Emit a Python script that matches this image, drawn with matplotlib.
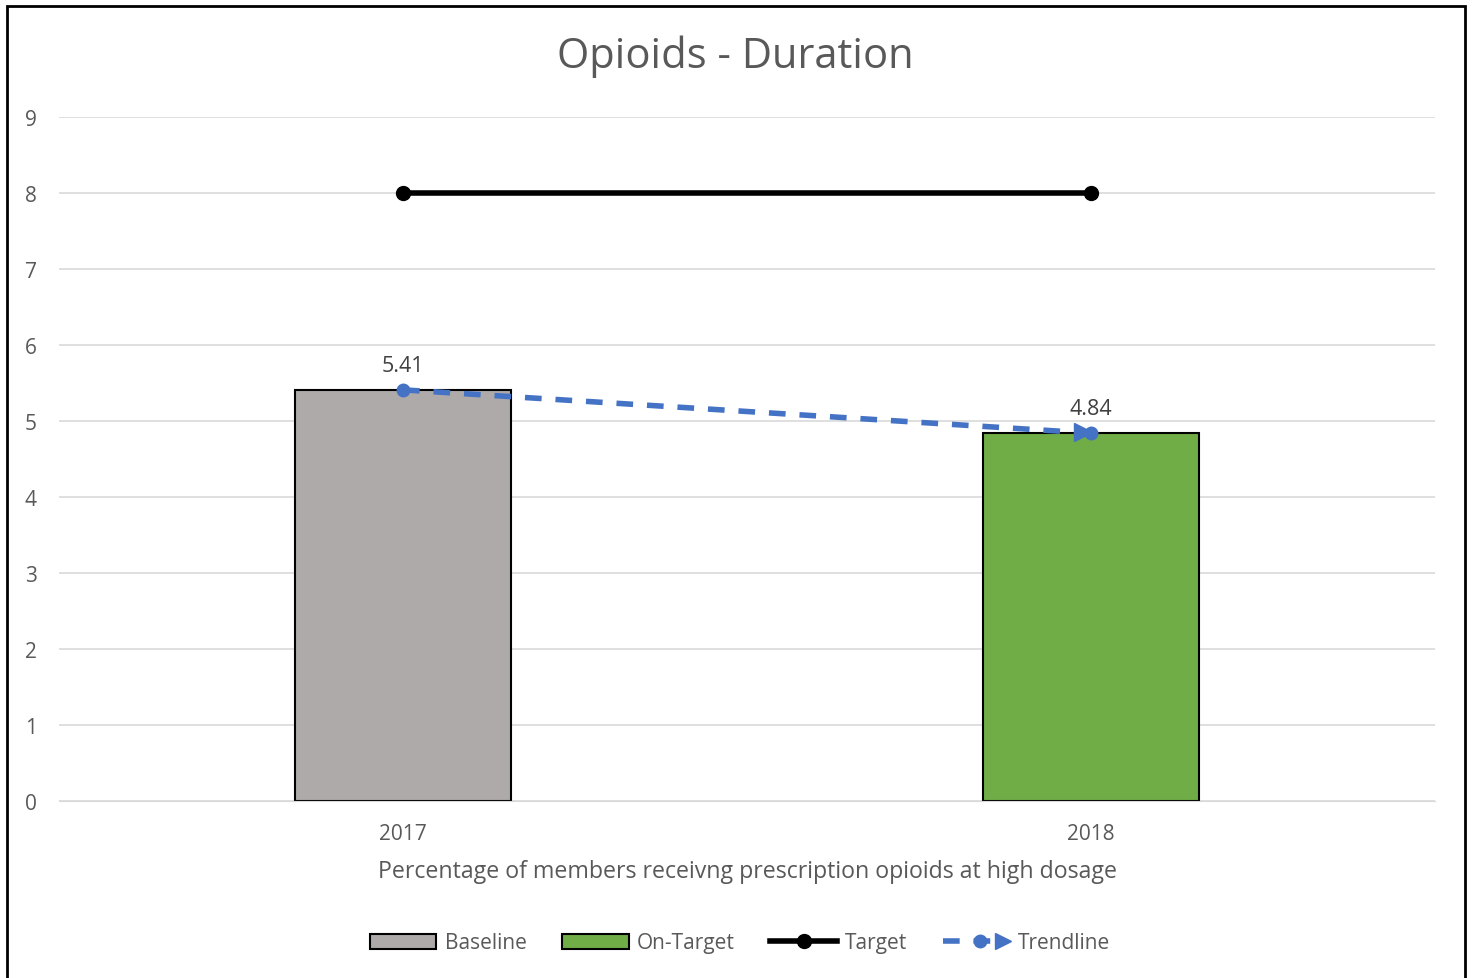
import matplotlib.pyplot as plt
from matplotlib.patches import Patch, Rectangle
from matplotlib.lines import Line2D
from matplotlib.legend_handler import HandlerBase

years = ["2017", "2018"]
values = [5.41, 4.84]
bar_colors = ["#AEAAAA", "#70AD47"]
target = [8, 8]
yticks = list(range(0, 10))

txt = "#595959"
blue = "#4472C4"
plt.rcParams['font.family'] = ['Open Sans', 'DejaVu Sans']


class TrendHandler(HandlerBase):
    # dashed line, dot near the middle, arrowhead at the right end
    def create_artists(self, legend, orig_handle, xdescent, ydescent, width, height, fontsize, trans):
        y = height / 2 - ydescent
        ln = Line2D([-xdescent, width - xdescent - 4], [y, y], color=blue, lw=4,
                    ls=(0, (3, 2.5)), transform=trans)
        dot = Line2D([-xdescent + width * 0.55], [y], marker="o", markersize=9, color=blue,
                     lw=0, transform=trans)
        arr = Line2D([width - xdescent - 5], [y], marker=">", markersize=12, color=blue,
                     lw=0, transform=trans)
        return [ln, dot, arr]


fig = plt.figure(figsize=(14.73, 9.79), dpi=100)
ax = fig.add_axes([59/1473, 1 - 802/979, 1376/1473, 684/979])

x = list(range(len(years)))
ax.bar(x, values, width=0.314, color=bar_colors, edgecolor="black", linewidth=1.5, zorder=2)
ax.plot(x, target, color="black", lw=4, marker="o", markersize=10, zorder=3)

# trendline
ax.plot(x, values, color=blue, lw=4, ls=(0, (3, 2.5)), marker="o", markersize=9, zorder=4)
ax.plot([x[-1] - 0.012], [values[-1] + 0.012], marker=">", markersize=13, color=blue, zorder=5)

for xi, v in zip(x, values):
    ax.text(xi, v + 0.18, f"{v:.2f}", ha="center", va="bottom", fontsize=15.5, color="#404040")

ax.set_xlim(-0.5, 1.5)
ax.set_ylim(0, 9)
ax.set_yticks(yticks)
ax.set_xticks(x)
ax.set_xticklabels(years)
ax.grid(axis="y", color="#D9D9D9", lw=1.2, zorder=0)
for s in ax.spines.values():
    s.set_visible(False)
ax.spines["bottom"].set_visible(True)
ax.spines["bottom"].set_color("#D9D9D9")
ax.tick_params(length=0, labelsize=15, labelcolor=txt)
ax.tick_params(axis="y", pad=16)
ax.tick_params(axis="x", pad=16)
ax.set_xlabel("Percentage of members receivng prescription opioids at high dosage",
              fontsize=16.7, color=txt, labelpad=11)

fig.text(735/1473, 1 - 57/979, "Opioids - Duration", ha="center", va="center", fontsize=30, color=txt)

trend_handle = Line2D([], [], color=blue)
handles = [
    Patch(facecolor=bar_colors[0], edgecolor="black", linewidth=1.5),
    Patch(facecolor=bar_colors[1], edgecolor="black", linewidth=1.5),
    Line2D([], [], color="black", lw=4, marker="o", markersize=10),
    trend_handle,
]
fig.legend(handles, ["Baseline", "On-Target", "Target", "Trendline"], loc="center",
           bbox_to_anchor=(740/1473, 1 - 944/979), ncol=4, frameon=False, fontsize=15,
           labelcolor=txt, handlelength=3.2, handletextpad=0.4, columnspacing=1.7,
           handler_map={trend_handle: TrendHandler()})

fig.add_artist(Rectangle((7/1473, -0.01), 1458/1473, 1 - 7/979 + 0.01, transform=fig.transFigure,
                         fill=False, edgecolor="black", lw=2))

fig.savefig("out.png", dpi=100)
